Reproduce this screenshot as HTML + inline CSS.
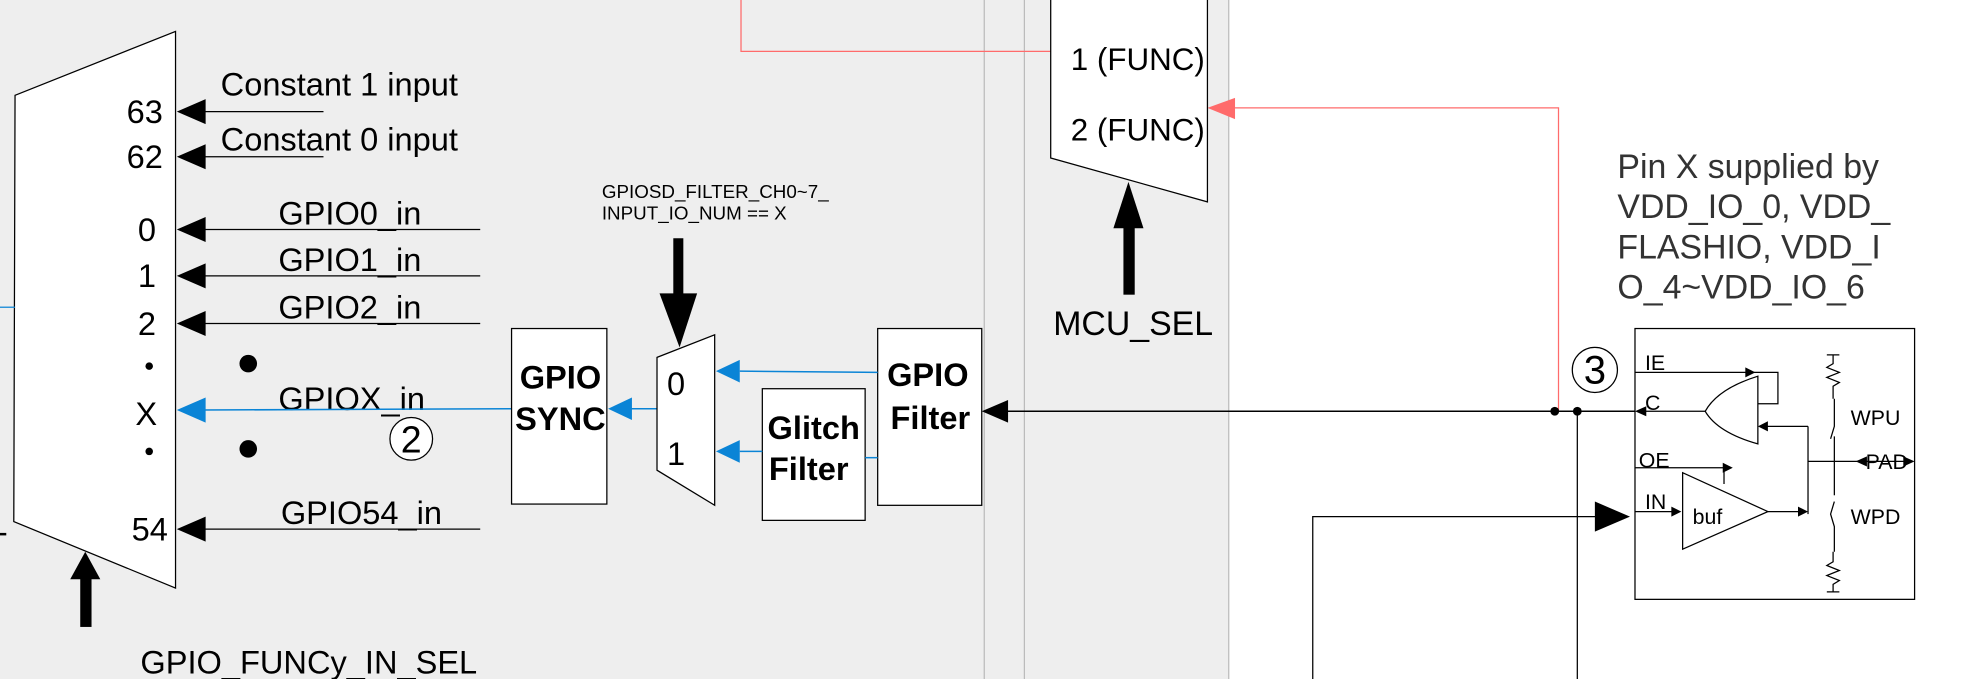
<!DOCTYPE html>
<html><head><style>html,body{margin:0;padding:0;background:#fff}svg{display:block}text{font-family:"Liberation Sans",sans-serif}</style></head>
<body>
<svg width="1966" height="679" viewBox="0 0 1568 541.5" xmlns="http://www.w3.org/2000/svg">
<rect x="0" y="0" width="980" height="541.5" fill="#eeeeee"/>
<line x1="785" y1="0" x2="785" y2="541.5" stroke="#bbb" stroke-width="1"/>
<line x1="817" y1="0" x2="817" y2="541.5" stroke="#bbb" stroke-width="1"/>
<line x1="980" y1="0" x2="980" y2="541.5" stroke="#bbb" stroke-width="1"/>

<polyline points="591,0 591,41 838,41" fill="none" stroke="#ff6b6b" stroke-width="1"/>
<polyline points="1243,328 1243,86 985,86" fill="none" stroke="#ff6b6b" stroke-width="1"/>
<polygon points="963,86 985,78 985,95" fill="#ff6b6b"/>

<polygon points="12,76 140,25 140,469 11,416" fill="#fff" stroke="#000" stroke-width="1"/>
<line x1="0" y1="245" x2="12" y2="245" stroke="#0a84d6" stroke-width="1"/>
<line x1="0" y1="426" x2="5" y2="426" stroke="#000" stroke-width="2"/>
<g font-size="26" fill="#000">
<text x="101" y="98">63</text><text x="101" y="134">62</text>
<text x="110" y="192">0</text><text x="110" y="229">1</text><text x="110" y="267">2</text>
<text x="108" y="339">X</text><text x="105" y="431">54</text>
</g>
<circle cx="119" cy="292" r="3" fill="#000"/><circle cx="119" cy="360" r="3" fill="#000"/>
<circle cx="198" cy="290" r="7" fill="#000"/><circle cx="198" cy="358" r="7" fill="#000"/>
<g stroke="#000" stroke-width="1">
<line x1="160" y1="89" x2="258" y2="89"/><line x1="160" y1="125" x2="258" y2="125"/>
<line x1="160" y1="183" x2="383" y2="183"/><line x1="160" y1="220" x2="383" y2="220"/>
<line x1="160" y1="258" x2="383" y2="258"/><line x1="160" y1="422" x2="383" y2="422"/>
</g>
<g fill="#000">
<polygon points="141,89 164,79 164,99"/><polygon points="141,125 164,115 164,135"/>
<polygon points="141,183 164,173 164,193"/><polygon points="141,220 164,210 164,230"/>
<polygon points="141,258 164,248 164,268"/><polygon points="141,422 164,412 164,432"/>
</g>
<g font-size="26" fill="#000">
<text x="176" y="76">Constant 1 input</text><text x="176" y="120">Constant 0 input</text>
<text x="222" y="179">GPIO0_in</text><text x="222" y="216">GPIO1_in</text><text x="222" y="254">GPIO2_in</text>
<text x="222" y="327">GPIOX_in</text><text x="224" y="418">GPIO54_in</text>
<text x="112" y="537">GPIO_FUNCy_IN_SEL</text>
</g>
<rect x="64" y="460" width="9" height="40" fill="#000"/><polygon points="68,440 56,462 80,462" fill="#000"/>
<line x1="160" y1="327" x2="408" y2="326" stroke="#0a84d6" stroke-width="1.2"/>
<polygon points="141,327 164,317 164,337" fill="#0a84d6"/>
<circle cx="328" cy="350" r="17" fill="#fff" stroke="#000" stroke-width="1"/>
<text x="328" y="361" font-size="30" text-anchor="middle">2</text>

<rect x="408" y="262" width="76" height="140" fill="#fff" stroke="#000" stroke-width="1"/>
<text x="447" y="310" font-size="26" font-weight="bold" text-anchor="middle">GPIO</text>
<text x="447" y="343" font-size="26" font-weight="bold" text-anchor="middle">SYNC</text>
<line x1="500" y1="326" x2="524" y2="326" stroke="#0a84d6" stroke-width="1.2"/>
<polygon points="485,326 504,317 504,335" fill="#0a84d6"/>
<polygon points="524,285 570,267 570,403 524,375" fill="#fff" stroke="#000" stroke-width="1"/>
<text x="532" y="315" font-size="26">0</text><text x="532" y="371" font-size="26">1</text>
<text x="480" y="158" font-size="15">GPIOSD_FILTER_CH0~7_</text>
<text x="480" y="175" font-size="15">INPUT_IO_NUM == X</text>
<rect x="537" y="190" width="8" height="47" fill="#000"/><polygon points="526,234 556,234 542,277" fill="#000"/>
<rect x="608" y="310" width="82" height="105" fill="#fff" stroke="#000" stroke-width="1"/>
<text x="649" y="350" font-size="26" font-weight="bold" text-anchor="middle">Glitch</text>
<text x="645" y="383" font-size="26" font-weight="bold" text-anchor="middle">Filter</text>
<rect x="700" y="262" width="83" height="141" fill="#fff" stroke="#000" stroke-width="1"/>
<text x="740" y="308" font-size="26" font-weight="bold" text-anchor="middle">GPIO</text>
<text x="742" y="342" font-size="26" font-weight="bold" text-anchor="middle">Filter</text>
<g stroke="#0a84d6" stroke-width="1.2">
<line x1="590" y1="296" x2="700" y2="297"/><line x1="590" y1="360" x2="608" y2="360"/><line x1="690" y1="365" x2="700" y2="365"/>
</g>
<polygon points="571,296 590,287 590,305" fill="#0a84d6"/>
<polygon points="571,360 590,351 590,369" fill="#0a84d6"/>

<line x1="800" y1="328" x2="1304" y2="328" stroke="#000" stroke-width="1.2"/>
<polygon points="783,328 804,319 804,337" fill="#000"/>
<circle cx="1240" cy="328" r="3.5" fill="#000"/><circle cx="1258" cy="328" r="3.5" fill="#000"/>
<line x1="1258" y1="328" x2="1258" y2="541.5" stroke="#000" stroke-width="1"/>
<polyline points="1047,541.5 1047,412 1275,412" fill="none" stroke="#000" stroke-width="1"/>
<polygon points="1300,412 1272,400 1272,424" fill="#000"/>

<polygon points="838,-2 963,-2 963,161 838,126" fill="#fff" stroke="#000" stroke-width="1"/>
<text x="854" y="56" font-size="25">1 (FUNC)</text>
<text x="854" y="112" font-size="25">2 (FUNC)</text>
<rect x="896" y="180" width="9" height="55" fill="#000"/><polygon points="900,145 888,182 912,182" fill="#000"/>
<text x="840" y="267" font-size="27">MCU_SEL</text>

<g font-size="27" fill="#333">
<text x="1290" y="142">Pin X supplied by</text>
<text x="1290" y="174">VDD_IO_0, VDD_</text>
<text x="1290" y="206">FLASHIO, VDD_I</text>
<text x="1290" y="238">O_4~VDD_IO_6</text>
</g>
<rect x="1304" y="262" width="223" height="216" fill="#fff" stroke="#000" stroke-width="1"/>
<circle cx="1272" cy="295" r="18" fill="#fff" stroke="#000" stroke-width="1"/>
<text x="1272" y="306" font-size="32" text-anchor="middle">3</text>
<g font-size="17" fill="#000">
<text x="1312" y="295">IE</text><text x="1312" y="327">C</text><text x="1307" y="373">OE</text><text x="1312" y="406">IN</text>
<text x="1350" y="418">buf</text><text x="1476" y="339">WPU</text><text x="1476" y="418">WPD</text><text x="1488" y="374">PAD</text>
</g>
<g stroke="#000" stroke-width="1" fill="none">
<polyline points="1304,297 1393,297"/><polyline points="1393,297 1418,297 1418,322 1402,322"/>
<path d="M1402,300 L1402,354 Q1370,345 1360,328 Q1370,310 1402,300 z"/>
<line x1="1360" y1="328" x2="1310" y2="328"/>
<polyline points="1442,340 1442,410"/><line x1="1442" y1="340" x2="1408" y2="340"/>
<polyline points="1304,373 1375,373 1375,386"/>
<polygon points="1342,377 1342,438 1410,408"/>
<line x1="1304" y1="408" x2="1336" y2="408"/>
<line x1="1410" y1="408" x2="1436" y2="408"/>
<line x1="1442" y1="368" x2="1525" y2="368"/>
<polyline points="1463,318 1463,340 1460,350"/><polyline points="1463,348 1463,395"/>
<polyline points="1463,400 1460,410 1463,420 1463,440"/>
<path d="M1457,283 L1467,283 M1462,283 L1462,290 L1457,293 L1467,297 L1457,301 L1467,305 L1462,308 L1462,318"/>
<path d="M1462,440 L1462,448 L1457,451 L1467,455 L1457,459 L1467,463 L1462,466 L1462,472 M1457,472 L1467,472"/>
</g>
<g fill="#000">
<polygon points="1400,297 1392,293 1392,301"/><polygon points="1304,328 1313,324 1313,332"/>
<polygon points="1402,340 1410,336 1410,344"/><polygon points="1382,373 1374,369 1374,377"/>
<polygon points="1341,408 1333,404 1333,412"/><polygon points="1442,408 1434,404 1434,412"/>
<polygon points="1480,368 1489,364 1489,372"/><polygon points="1527,368 1518,364 1518,372"/>
</g>
</svg>
</body></html>
